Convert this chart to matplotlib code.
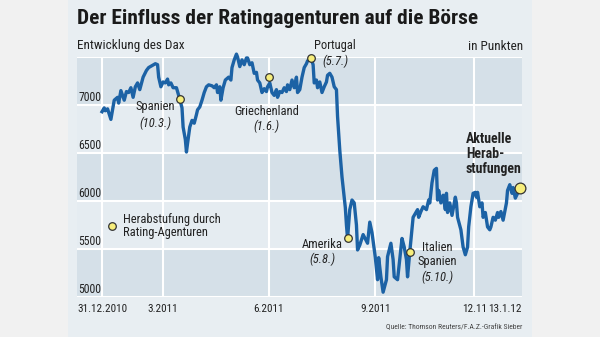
import matplotlib
matplotlib.use("Agg")
import matplotlib.pyplot as plt
from matplotlib import font_manager
from matplotlib.patches import Rectangle

# schmale Schrift suchen, sonst Liberation Sans
names = sorted({f.name for f in font_manager.fontManager.ttflist})
narrow = None
for cand in ['Liberation Sans Narrow', 'Roboto Condensed', 'Open Sans Condensed',
             'Noto Sans Condensed', 'DejaVu Sans Condensed', 'Arial Narrow']:
    if cand in names:
        narrow = cand
        break
if narrow is None:
    others = [n for n in names if ('Narrow' in n or 'Condensed' in n)
              and 'Mono' not in n and 'Serif' not in n]
    narrow = others[0] if others else 'Liberation Sans'
plt.rcParams['font.family'] = [narrow, 'DejaVu Sans']

# Dax, Tage ab 31.12.2010
days = [0, 2, 3, 5, 8, 11, 14, 15, 17, 20,
        22, 24, 26, 28, 30, 32, 34, 37, 40, 42,
        45, 48, 50, 51, 53, 55, 57, 59, 60, 62,
        64, 67, 70, 72, 73, 75, 76, 77, 79, 81,
        83, 85, 86, 88, 90, 92, 94, 96, 99, 101,
        103, 104, 106, 107, 109, 111, 113, 114, 116, 117,
        119, 121, 122, 124, 126, 128, 130, 131, 133, 135,
        137, 139, 140, 142, 144, 146, 148, 149, 151, 153,
        155, 157, 158, 160, 162, 164, 166, 167, 169, 171,
        173, 175, 176, 178, 180, 182, 184, 185, 188, 190,
        191, 193, 194, 196, 198, 200, 202, 203, 205, 207,
        209, 211, 212, 214, 216, 218, 219, 220, 221, 223,
        225, 227, 229, 230, 232, 235, 239, 241, 243, 246,
        248, 249, 251, 253, 256, 257, 260, 262, 263, 266,
        268, 270, 272, 274, 275, 277, 280, 284, 285, 287,
        289, 292, 294, 295, 297, 299, 301, 302, 303, 305,
        307, 309, 310, 311, 313, 315, 318, 319, 320, 323,
        325, 327, 329, 330, 332, 334, 336, 337, 338, 340,
        342, 343, 345, 347, 349, 350, 352, 354, 356, 357,
        359, 361, 364, 365, 367, 369, 370, 372, 374, 376]
dax = [6930, 6970, 6940, 6960, 6850, 7050, 7080, 7020, 7150, 7050,
       7140, 7130, 7180, 7080, 7190, 7230, 7160, 7290, 7360, 7390,
       7410, 7430, 7420, 7290, 7190, 7240, 7230, 7270, 7210, 7230,
       7180, 7180, 7060, 6970, 6770, 6640, 6510, 6600, 6770, 6840,
       6810, 6900, 6950, 6980, 7050, 7130, 7190, 7210, 7200, 7180,
       7210, 7130, 7190, 7050, 7180, 7260, 7280, 7290, 7260, 7390,
       7470, 7530, 7500, 7400, 7470, 7420, 7490, 7490, 7420, 7440,
       7330, 7340, 7260, 7230, 7130, 7170, 7140, 7190, 7230, 7130,
       7100, 7160, 7080, 7140, 7130, 7180, 7140, 7210, 7160, 7260,
       7180, 7290, 7130, 7160, 7290, 7390, 7430, 7460, 7490, 7420,
       7230, 7260, 7180, 7240, 7130, 7190, 7240, 7310, 7330, 7290,
       7190, 7160, 6880, 6530, 6250, 6040, 5930, 5750, 5610, 5910,
       6010, 5980, 5750, 5490, 5540, 5650, 5560, 5780, 5670, 5410,
       5180, 5410, 5210, 5050, 5180, 5420, 5560, 5390, 5210, 5180,
       5390, 5610, 5520, 5390, 5210, 5470, 5830, 5910, 5830, 5890,
       5940, 5910, 6010, 5980, 6190, 6320, 6340, 6010, 6110, 5980,
       6060, 5910, 6080, 5880, 5980, 5850, 6040, 5980, 5830, 5700,
       5520, 5440, 5520, 5730, 5940, 6080, 6090, 6040, 6090, 5940,
       5980, 5830, 5880, 5730, 5700, 5730, 5830, 5800, 5880, 5830,
       5890, 5800, 5980, 6110, 6170, 6080, 6140, 6030, 6080, 6140]

# Herabstufungen
event_days = [70, 150, 188, 221, 277]
event_values = [7060, 7290, 7490, 5610, 5470]
last_day = 376
last_value = 6140

y_ticks = [5000, 5500, 6000, 6500, 7000]
x_ticks = [0, 55, 150, 246, 335, 378]
x_labels = ['31.12.2010', '3.2011', '6.2011', '9.2011', '12.11', '13.1.12']

line_col = '#1c62a5'
dot_col = '#f7ee7c'
txt_col = '#222222'
fs = 9

fig = plt.figure(figsize=(6, 3.37), dpi=100)
fig.patch.set_facecolor('#f1f1f1')
fig.patches.append(Rectangle((68 / 600, 0), 464 / 600, 1, transform=fig.transFigure,
                             facecolor='#e8eef2', edgecolor='none', zorder=-10))

ax = fig.add_axes([77 / 600, 40 / 337, 445 / 600, 240 / 337])
ax.set_xlim(-22.5, 378)
ax.set_ylim(5000, 7500)
ax.set_facecolor('none')
for s in ax.spines.values():
    s.set_visible(False)

# Baender
for i, lo in enumerate(range(5000, 7500, 500)):
    col = '#d5e0e8' if i % 2 == 0 else '#e5ecf1'
    ax.axhspan(lo, lo + 500, color=col, lw=0, zorder=0)
for v in range(5000, 7501, 500):
    ax.axhline(v, color='white', lw=1.5, zorder=1)
for d in x_ticks[:-1]:
    ax.axvline(d, color='white', lw=1.5, zorder=1)

for v in y_ticks:
    ax.text(-21, v + 80, str(v), fontsize=8.5, color=txt_col, va='center', ha='left')

ax.plot(days, dax, color=line_col, lw=2.4, zorder=3, clip_on=False, solid_joinstyle='round')
ax.scatter(event_days, event_values, s=30, color=dot_col, edgecolor='#333333', lw=0.9,
           zorder=4, clip_on=False)
ax.scatter([last_day], [last_value], s=60, color=dot_col, edgecolor='#333333', lw=0.9,
           zorder=4, clip_on=False)

ax.set_xticks(x_ticks)
ax.set_xticklabels(x_labels, fontsize=8, color=txt_col)
ax.tick_params(axis='x', length=0, pad=5)
ax.set_yticks([])
ax.get_xticklabels()[-1].set_ha('right')

# Beschriftungen
ax.text(48, 6980, 'Spanien', fontsize=fs, color=txt_col, ha='center', va='center')
ax.text(48, 6810, '(10.3.)', fontsize=fs, color=txt_col, ha='center', va='center', style='italic')
ax.text(148, 6930, 'Griechenland', fontsize=fs, color=txt_col, ha='center', va='center')
ax.text(148, 6780, '(1.6.)', fontsize=fs, color=txt_col, ha='center', va='center', style='italic')
ax.text(210, 7625, 'Portugal', fontsize=fs, color=txt_col, ha='center', va='center', clip_on=False)
ax.text(210, 7450, '(5.7.)', fontsize=fs, color=txt_col, ha='center', va='center', style='italic')
ax.text(198, 5550, 'Amerika', fontsize=fs, color=txt_col, ha='center', va='center')
ax.text(198, 5395, '(5.8.)', fontsize=fs, color=txt_col, ha='center', va='center', style='italic')
ax.text(302, 5520, 'Italien', fontsize=fs, color=txt_col, ha='center', va='center')
ax.text(302, 5375, 'Spanien', fontsize=fs, color=txt_col, ha='center', va='center')
ax.text(302, 5210, '(5.10.)', fontsize=fs, color=txt_col, ha='center', va='center', style='italic')
ax.text(327.5, 6720, 'Aktuelle\nHerab-\nstufungen', fontsize=10, color=txt_col, ha='left',
        va='top', fontweight='bold', linespacing=1.1)

ax.scatter([9], [5740], s=30, color=dot_col, edgecolor='#333333', lw=0.9, zorder=4)
ax.text(19, 5740, 'Herabstufung durch\nRating-Agenturen', fontsize=fs, color=txt_col,
        ha='left', va='center', linespacing=1.05)

title = fig.text(77 / 600, 1 - 19 / 337, 'Der Einfluss der Ratingagenturen auf die Börse',
                 fontsize=15, fontweight='bold', color='#1a1a1a', ha='left', va='center')
fig.text(77 / 600, 1 - 46 / 337, 'Entwicklung des Dax', fontsize=9.5, color=txt_col,
         ha='left', va='center')
fig.text(523 / 600, 1 - 46 / 337, 'in Punkten', fontsize=9.5, color=txt_col,
         ha='right', va='center')
fig.text(522 / 600, 1 - 327 / 337, 'Quelle: Thomson Reuters/F.A.Z.-Grafik Sieber',
         fontsize=5.5, color='#444444', ha='right', va='center')

# Titel auf die Breite des Originals bringen (ca. 400 px)
renderer = fig.canvas.get_renderer()
w = title.get_window_extent(renderer).width
title.set_fontsize(15 * 400 / w)

fig.savefig('out.png', dpi=100, facecolor=fig.get_facecolor())
